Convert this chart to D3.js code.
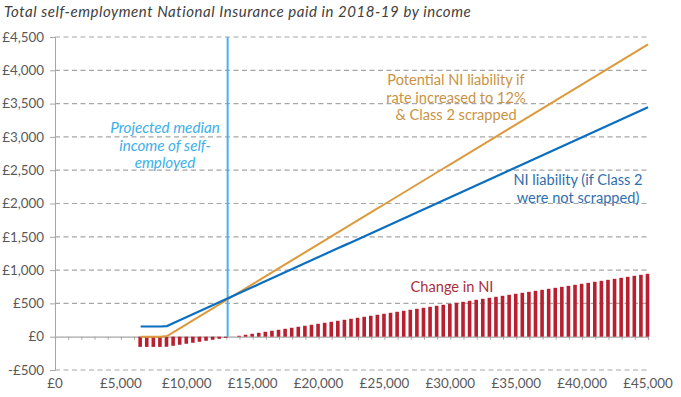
<!DOCTYPE html>
<html>
<head>
<meta charset="utf-8">
<script src="https://cdn.jsdelivr.net/npm/d3@7"></script>
<style>
  body { margin: 0; background: #fff; }
  svg { display: block; font-family: Lato, "Open Sans", sans-serif; }
</style>
</head>
<body>
<svg id="chart"></svg>
<script>
// income points (every £500)
const incomes = [
  6500, 7000, 7500, 8000, 8500, 9000, 9500, 10000, 10500, 11000, 11500, 12000,
  12500, 13000, 13500, 14000, 14500, 15000, 15500, 16000, 16500, 17000, 17500, 18000,
  18500, 19000, 19500, 20000, 20500, 21000, 21500, 22000, 22500, 23000, 23500, 24000,
  24500, 25000, 25500, 26000, 26500, 27000, 27500, 28000, 28500, 29000, 29500, 30000,
  30500, 31000, 31500, 32000, 32500, 33000, 33500, 34000, 34500, 35000, 35500, 36000,
  36500, 37000, 37500, 38000, 38500, 39000, 39500, 40000, 40500, 41000, 41500, 42000,
  42500, 43000, 43500, 44000, 44500, 45000
];

// NI liability (if Class 2 were not scrapped)
const niCurrent = [
  153, 153, 153, 153, 160, 205, 250, 295, 340, 385, 430, 475,
  520, 565, 610, 655, 700, 745, 790, 835, 880, 925, 970, 1015,
  1060, 1105, 1150, 1195, 1240, 1285, 1330, 1375, 1420, 1465, 1510, 1555,
  1600, 1645, 1690, 1735, 1780, 1825, 1870, 1915, 1960, 2005, 2050, 2095,
  2140, 2185, 2230, 2275, 2320, 2365, 2410, 2455, 2500, 2545, 2590, 2635,
  2680, 2725, 2770, 2815, 2860, 2905, 2950, 2995, 3040, 3085, 3130, 3175,
  3220, 3265, 3310, 3355, 3400, 3445
];

// Potential NI liability if rate increased to 12% & Class 2 scrapped
const niPotential = [
  0, 0, 0, 0, 9, 69, 129, 189, 249, 309, 369, 429,
  489, 549, 609, 669, 729, 789, 849, 909, 969, 1029, 1089, 1149,
  1209, 1269, 1329, 1389, 1449, 1509, 1569, 1629, 1689, 1749, 1809, 1869,
  1929, 1989, 2049, 2109, 2169, 2229, 2289, 2349, 2409, 2469, 2529, 2589,
  2649, 2709, 2769, 2829, 2889, 2949, 3009, 3069, 3129, 3189, 3249, 3309,
  3369, 3429, 3489, 3549, 3609, 3669, 3729, 3789, 3849, 3909, 3969, 4029,
  4089, 4149, 4209, 4269, 4329, 4389
];

// Change in NI
const niChange = [
  -153, -153, -153, -153, -151, -136, -121, -106, -91, -76, -61, -46,
  -31, -16, -1, 14, 29, 44, 59, 74, 89, 104, 119, 134,
  149, 164, 179, 194, 209, 224, 239, 254, 269, 284, 299, 314,
  329, 344, 359, 374, 389, 404, 419, 434, 449, 464, 479, 494,
  509, 524, 539, 554, 569, 584, 599, 614, 629, 644, 659, 674,
  689, 704, 719, 734, 749, 764, 779, 794, 809, 824, 839, 854,
  869, 884, 899, 914, 929, 944
];

const yTicks = [-500, 0, 500, 1000, 1500, 2000, 2500, 3000, 3500, 4000, 4500];
const xTicks = [0, 5000, 10000, 15000, 20000, 25000, 30000, 35000, 40000, 45000];
const medianIncome = 13100;

const width = 681;
const height = 397;
const margin = { top: 37, right: 33, bottom: 27, left: 55 };

const svg = d3.select("#chart")
    .attr("width", width)
    .attr("height", height);

const x = d3.scaleLinear()
    .domain([0, 45000])
    .range([margin.left, width - margin.right]);

const y = d3.scaleLinear()
    .domain([-500, 4500])
    .range([height - margin.bottom, margin.top]);

const fmt = v => (v < 0 ? "-£" : "£") + d3.format(",")(Math.abs(v));

svg.append("text")
    .attr("x", 4)
    .attr("y", 17)
    .attr("font-size", 15)
    .attr("letter-spacing", 0.55)
    .attr("font-style", "italic")
    .attr("fill", "#404040")
    .text("Total self-employment National Insurance paid in 2018-19 by income");

// gridlines
svg.append("g")
  .selectAll("line")
  .data(yTicks.filter(d => d !== 0))
  .join("line")
    .attr("x1", x(0))
    .attr("x2", x(45000))
    .attr("y1", d => y(d))
    .attr("y2", d => y(d))
    .attr("stroke", "#a6a6a6")
    .attr("stroke-width", 1.2)
    .attr("stroke-dasharray", "5,3.5");

// y axis
const yAxis = svg.append("g")
    .attr("transform", `translate(${x(0)},0)`)
    .call(d3.axisLeft(y).tickValues(yTicks).tickFormat(fmt).tickSize(5).tickPadding(6));
yAxis.select(".domain").attr("stroke", "#a6a6a6");
yAxis.selectAll(".tick line").attr("stroke", "#a6a6a6");
yAxis.selectAll(".tick text")
    .attr("fill", "#595959")
    .attr("font-size", 13.4)
    .attr("font-family", "Lato, sans-serif");

// zero line with minor ticks
const xAxis = svg.append("g")
    .attr("transform", `translate(0,${y(0)})`)
    .call(d3.axisBottom(x).ticks(45).tickSize(3).tickFormat(""));
xAxis.select(".domain").attr("stroke", "#a6a6a6").attr("stroke-width", 1.2);
xAxis.selectAll(".tick line").attr("stroke", "#a6a6a6");

// x labels along the bottom
svg.append("g")
  .selectAll("text")
  .data(xTicks)
  .join("text")
    .attr("x", d => x(d))
    .attr("y", height - 9)
    .attr("text-anchor", "middle")
    .attr("font-size", 13.4)
    .attr("fill", "#595959")
    .text(fmt);

// change bars
const barW = 3.6;
svg.append("g")
    .attr("fill", "#b8202f")
  .selectAll("rect")
  .data(incomes)
  .join("rect")
    .attr("x", d => x(d) - barW / 2 - 0.5)
    .attr("width", barW)
    .attr("y", (d, i) => Math.min(y(niChange[i]), y(0)))
    .attr("height", (d, i) => Math.abs(y(niChange[i]) - y(0)));

// median line
svg.append("line")
    .attr("x1", x(medianIncome))
    .attr("x2", x(medianIncome))
    .attr("y1", y(4500))
    .attr("y2", y(0))
    .attr("stroke", "#4cb1ea")
    .attr("stroke-width", 2);

const line = vals => d3.line()
    .x((d, i) => x(incomes[i]))
    .y(d => y(d))(vals);

svg.append("path")
    .attr("d", line(niPotential))
    .attr("fill", "none")
    .attr("stroke", "#dc9a3c")
    .attr("stroke-width", 2);

svg.append("path")
    .attr("d", line(niCurrent))
    .attr("fill", "none")
    .attr("stroke", "#0a6fc2")
    .attr("stroke-width", 2.2);

// annotations
function label(lines, cx, y0, color, italic, size) {
  const t = svg.append("text")
      .attr("text-anchor", "middle")
      .attr("font-size", size)
      .attr("fill", color)
      .attr("font-style", italic ? "italic" : null);
  lines.forEach((s, i) => {
    t.append("tspan").attr("x", cx).attr("y", y0 + i * 17.5).text(s);
  });
}

label(["Projected median", "income of self-", "employed"], 165, 133, "#3cb0ea", true, 15.2);
label(["Potential NI liability if", "rate increased to 12%", "& Class 2 scrapped"], 456, 85, "#c99343", false, 14.6);
label(["NI liability (if Class 2", "were not scrapped)"], 578, 185, "#2f6fad", false, 14.6);
label(["Change in NI"], 452, 292, "#a8303b", false, 14.6);
</script>
</body>
</html>
